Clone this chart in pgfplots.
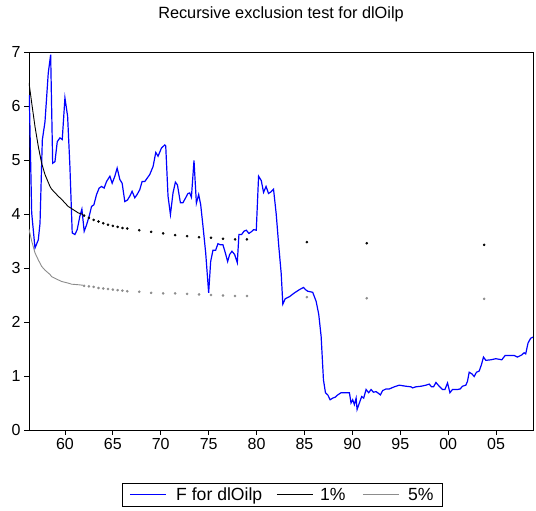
\documentclass[border=0pt]{standalone}
\usepackage{fontspec}
\setmainfont{Liberation Sans}
\usepackage{pgfplots}
\pgfplotsset{compat=1.18}
\definecolor{evblue}{RGB}{0,0,255}
\definecolor{evgray}{RGB}{140,140,140}

% F statistic for dlOilp
\pgfplotstableread{
year val
1956.28 6.20
1956.53 4.02
1956.875 3.37
1957.22 3.52
1957.40 3.83
1957.64 5.37
1957.92 5.71
1958.26 6.61
1958.51 6.95
1958.72 4.94
1958.96 4.97
1959.20 5.34
1959.48 5.41
1959.72 5.38
1960.00 6.15
1960.28 5.81
1960.52 4.88
1960.76 3.65
1961.04 3.62
1961.28 3.71
1961.56 3.96
1961.77 4.09
1962.01 3.68
1962.26 3.80
1962.53 3.96
1962.78 4.14
1963.02 4.17
1963.30 4.36
1963.57 4.48
1963.82 4.51
1964.09 4.48
1964.34 4.60
1964.69 4.70
1964.93 4.57
1965.21 4.70
1965.45 4.85
1965.73 4.64
1965.97 4.57
1966.25 4.23
1966.53 4.26
1966.77 4.33
1967.01 4.42
1967.29 4.30
1967.53 4.36
1967.81 4.45
1968.05 4.60
1968.33 4.60
1968.61 4.67
1968.85 4.73
1969.20 4.88
1969.48 5.14
1969.72 5.07
1970.07 5.22
1970.42 5.28
1970.52 5.26
1970.76 4.33
1971.01 3.99
1971.28 4.39
1971.53 4.59
1971.74 4.54
1972.05 4.21
1972.32 4.21
1972.60 4.30
1972.84 4.38
1973.02 4.39
1973.20 4.31
1973.47 4.99
1973.72 4.20
1973.96 4.36
1974.17 4.17
1974.41 3.77
1974.69 3.28
1975.00 2.54
1975.21 3.12
1975.45 3.33
1975.73 3.33
1975.97 3.45
1976.22 3.43
1976.49 3.43
1976.74 3.28
1976.98 3.12
1977.19 3.25
1977.43 3.31
1977.71 3.25
1977.99 3.10
1978.16 3.62
1978.44 3.62
1978.68 3.68
1978.93 3.70
1979.20 3.64
1979.45 3.67
1979.69 3.71
1979.97 3.70
1980.21 4.70
1980.49 4.62
1980.73 4.40
1980.99 4.51
1981.25 4.38
1981.51 4.41
1981.77 4.46
1982.05 4.00
1982.32 3.40
1982.57 2.90
1982.74 2.33
1982.99 2.43
1983.44 2.47
1983.96 2.54
1984.48 2.60
1984.90 2.64
1985.10 2.60
1985.34 2.57
1985.86 2.55
1986.22 2.38
1986.49 2.14
1986.74 1.73
1986.98 0.93
1987.19 0.69
1987.43 0.65
1987.68 0.56
1987.95 0.59
1988.23 0.61
1988.47 0.65
1988.82 0.69
1989.34 0.69
1989.69 0.69
1989.86 0.50
1990.03 0.56
1990.21 0.47
1990.39 0.59
1990.49 0.38
1990.73 0.50
1990.97 0.62
1991.18 0.59
1991.43 0.75
1991.70 0.69
1991.95 0.75
1992.19 0.70
1992.47 0.71
1992.64 0.69
1992.92 0.65
1993.16 0.73
1993.51 0.76
1993.85 0.76
1994.38 0.80
1994.90 0.83
1995.59 0.81
1996.11 0.80
1996.28 0.78
1996.64 0.80
1997.16 0.81
1997.68 0.83
1998.02 0.85
1998.26 0.80
1998.47 0.80
1998.72 0.88
1999.06 0.81
1999.41 0.75
1999.66 0.75
1999.93 0.87
2000.18 0.69
2000.45 0.75
2000.97 0.75
2001.25 0.76
2001.49 0.81
2001.84 0.83
2002.01 0.90
2002.19 1.07
2002.47 1.04
2002.71 0.99
2002.95 1.07
2003.23 1.09
2003.47 1.21
2003.68 1.35
2003.93 1.29
2004.45 1.30
2004.97 1.32
2005.31 1.31
2005.59 1.30
2005.94 1.38
2006.35 1.38
2006.88 1.38
2007.22 1.35
2007.68 1.39
2007.92 1.43
2008.09 1.41
2008.33 1.61
2008.61 1.70
2008.86 1.72
}\fstat

% 1% and 5% critical values, continuous part
\pgfplotstableread{
year one five
1956.25 6.43 3.72
1956.53 6.06 3.50
1956.875 5.62 3.28
1957.22 5.25 3.15
1957.57 4.94 3.03
1957.92 4.73 2.96
1958.44 4.51 2.88
1958.61 4.46 2.84
1959.30 4.33 2.78
1959.66 4.27 2.75
1960.34 4.14 2.72
1960.70 4.10 2.70
1961.39 4.02 2.69
1961.91 3.99 2.68
}\critline

% 1% and 5% critical values, isolated points
\pgfplotstableread{
year one five
1962.0 3.97 2.67
1962.5 3.93 2.66
1963.0 3.89 2.65
1963.5 3.86 2.63
1964.0 3.83 2.62
1964.5 3.80 2.61
1965.0 3.78 2.60
1965.5 3.76 2.59
1966.0 3.74 2.58
1966.5 3.73 2.57
1967.75 3.70 2.56
1969.0 3.67 2.54
1970.25 3.64 2.53
1971.5 3.61 2.53
1972.75 3.59 2.52
1974.0 3.57 2.51
1975.25 3.56 2.50
1976.5 3.54 2.49
1977.75 3.53 2.48
1979.0 3.53 2.48
1985.25 3.48 2.46
1991.5 3.46 2.44
2003.75 3.43 2.43
}\critdots

\begin{document}
\begin{tikzpicture}
\begin{axis}[
    name=ax,
    scale only axis,
    width=504bp, height=378bp,
    xmin=1956.25, xmax=2008.85,
    ymin=0, ymax=7,
    xtick={1960,1965,...,2005},
    xticklabels={60,65,70,75,80,85,90,95,00,05},
    ytick={0,1,...,7},
    xtick pos=bottom, ytick pos=left,
    tick align=outside,
    major tick length=5bp,
    tick style={black, line width=0.8bp},
    axis line style={line width=0.9bp},
    ticklabel style={font=\fontsize{16bp}{18bp}\selectfont},
    /pgf/number format/assume math mode=true,
    title={Recursive exclusion test for dlOilp},
    title style={font=\fontsize{16.3bp}{18bp}\selectfont, at={(0.5,1)}, yshift=21bp, anchor=south},
]
\addplot[color=evblue, line width=1.2bp] table[x=year, y=val] {\fstat};
\addplot[color=black, line width=0.9bp] table[x=year, y=one] {\critline};
\addplot[color=evgray, line width=0.9bp] table[x=year, y=five] {\critline};
\addplot[only marks, mark=*, mark size=1.1bp, black] table[x=year, y=one] {\critdots};
\addplot[only marks, mark=*, mark size=1.1bp, evgray, mark options={draw=evgray, fill=evgray}] table[x=year, y=five] {\critdots};
\end{axis}
% legend box below the axis
\begin{scope}[shift={(ax.south west)}]
\draw[line width=0.8bp] (93bp,-53bp) rectangle (413bp,-76bp);
\draw[evblue, line width=1.2bp] (101bp,-64.5bp) -- (137bp,-64.5bp);
\draw[black, line width=1bp] (248bp,-64.5bp) -- (284bp,-64.5bp);
\draw[evgray, line width=1bp] (334bp,-64.5bp) -- (370bp,-64.5bp);
\begin{scope}[every node/.style={anchor=base west, inner sep=0pt, font=\fontsize{17.6bp}{19bp}\selectfont}]
\node at (147bp,-71bp) {F for dlOilp};
\node at (291bp,-71bp) {1\%};
\node at (379bp,-71bp) {5\%};
\end{scope}
\end{scope}
\path ([xshift=-29bp, yshift=-81bp]ax.south west) rectangle ([xshift=3bp, yshift=52bp]ax.north east);
\end{tikzpicture}
\end{document}
